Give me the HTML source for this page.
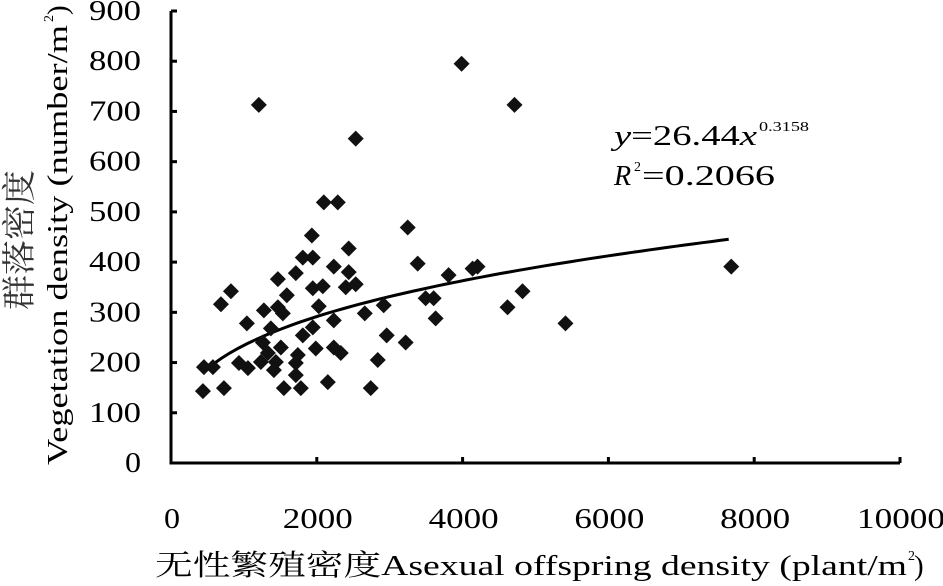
<!DOCTYPE html>
<html><head><meta charset="utf-8"><style>
html,body{margin:0;padding:0;background:#fff;}
svg{display:block;font-family:"Liberation Serif","Noto Serif CJK SC",serif;}
</style></head><body>
<svg id="chart" width="943" height="586" viewBox="0 0 943 586"></svg>
<script>
const xVals=[438,726,452,575,685,822,1041,932,1055,1233,1329,1438,1411,1507,1260,1370,1274,1466,1534,1589,1466,1712,1808,1945,1932,2096,2288,2438,2233,2438,2534,2397,2082,1945,2027,1945,1808,2233,1986,2233,2329,1740,1712,1712,1548,1781,2151,2658,2918,2836,2740,2959,3219,3247,3384,3493,3603,3630,3808,1205,2534,3986,4712,7685,5411,4822,4616,4137,4205];
const yVals=[143,149,191,191,316,342,278,199,189,201,219,201,185,230,240,268,304,310,298,334,366,378,409,409,453,519,519,427,391,380,356,350,352,348,312,270,254,284,228,230,219,215,199,175,149,149,161,298,314,205,149,254,240,469,397,328,328,288,374,713,646,795,713,391,278,342,310,387,391];
const xTicks=[0,2000,4000,6000,8000,10000];
const yTicks=[0,100,200,300,400,500,600,700,800,900];
const fitA=26.44, fitB=0.3158, fitRange=[450,7650];

const NS="http://www.w3.org/2000/svg";
const svg=document.getElementById('chart');
const X0=171,X1=900,Y0=463,Y1=11;
const sx=v=>X0+(v-0)/10000*(X1-X0);
const sy=v=>Y0-(v-0)/900*(Y0-Y1);
function mk(t,a){const e=document.createElementNS(NS,t);for(const k in a)e.setAttribute(k,a[k]);svg.appendChild(e);return e;}

let ax=mk('path',{d:`M${X0},${Y1} L${X0},${Y0} L${X1},${Y0}`,fill:'none',stroke:'#000','stroke-width':3});



yTicks.forEach(v=>{
  const y=sy(v);
  const t=mk('line',{x1:X0,x2:X0+6,y1:y,y2:y,stroke:'#000','stroke-width':3});
  
  
  const s=String(v);
  const l=mk('text',{x:143-18*s.length,y:y+9,'font-size':28,textLength:18*s.length-2,lengthAdjust:'spacingAndGlyphs'});
  l.textContent=s;
  
  
});
xTicks.forEach(v=>{
  const x=sx(v);
  if(v>0){const t=mk('line',{x1:x,x2:x,y1:Y0,y2:Y0-6,stroke:'#000','stroke-width':3});
  
  }
  const s=String(v);
  const l=mk('text',{x:x+2-9*s.length,y:528,'font-size':28,textLength:18*s.length-2,lengthAdjust:'spacingAndGlyphs'});
  l.textContent=s;
  
  
});

let pts=[];
for(let i=0;i<=60;i++){const xv=fitRange[0]+(fitRange[1]-fitRange[0])*i/60;pts.push(sx(xv).toFixed(1)+','+sy(fitA*Math.pow(xv,fitB)).toFixed(1));}
const fl=mk('polyline',{points:pts.join(' '),fill:'none',stroke:'#000','stroke-width':3});



xVals.forEach((xv,i)=>{
  const cx=sx(xv),cy=sy(yVals[i]),r=8;
  const p=mk('path',{d:`M${cx},${cy-r} L${cx+r},${cy} L${cx},${cy+r} L${cx-r},${cy} Z`,fill:'#111'});
  
  
});
</script>
<svg style="position:absolute;left:0;top:0" width="943" height="586">
<g font-family="Liberation Serif,serif">
<text x="614" y="145" font-size="28" textLength="143" lengthAdjust="spacingAndGlyphs"><tspan font-style="italic">y</tspan>=26.44<tspan font-style="italic">x</tspan></text>
<text x="759" y="131" font-size="14" textLength="50" lengthAdjust="spacingAndGlyphs">0.3158</text>
</g>
<g font-family="Liberation Serif,serif">
<text x="614" y="185" font-size="28" font-style="italic">R</text>
<text x="634" y="171" font-size="14">2</text>
<text x="642" y="185" font-size="28" textLength="133" lengthAdjust="spacingAndGlyphs">=0.2066</text>
</g>
<g>
<text x="155" y="575" font-size="29" textLength="752" lengthAdjust="spacingAndGlyphs" font-family="Liberation Serif,'Noto Serif CJK SC',serif">无性繁殖密度Asexual offspring density (plant/m</text>
<text x="908" y="560" font-size="14" font-family="Liberation Serif,serif">2</text>
<text x="914" y="575" font-size="29" font-family="Liberation Serif,serif">)</text>
</g>
<text transform="translate(31,170) rotate(-90)" x="-140" y="0" textLength="140" lengthAdjust="spacingAndGlyphs" font-size="34" fill="#333" font-family="'Noto Serif CJK SC',serif">群落密度</text>
<g transform="translate(67,465) rotate(-90)" font-family="Liberation Serif,serif">
<text x="0" y="0" textLength="440" lengthAdjust="spacingAndGlyphs" font-size="29">Vegetation density (number/m</text>
<text x="443" y="-14" font-size="14">2</text>
<text x="450" y="0" font-size="29">)</text>
</g>
</svg>
</body></html>
